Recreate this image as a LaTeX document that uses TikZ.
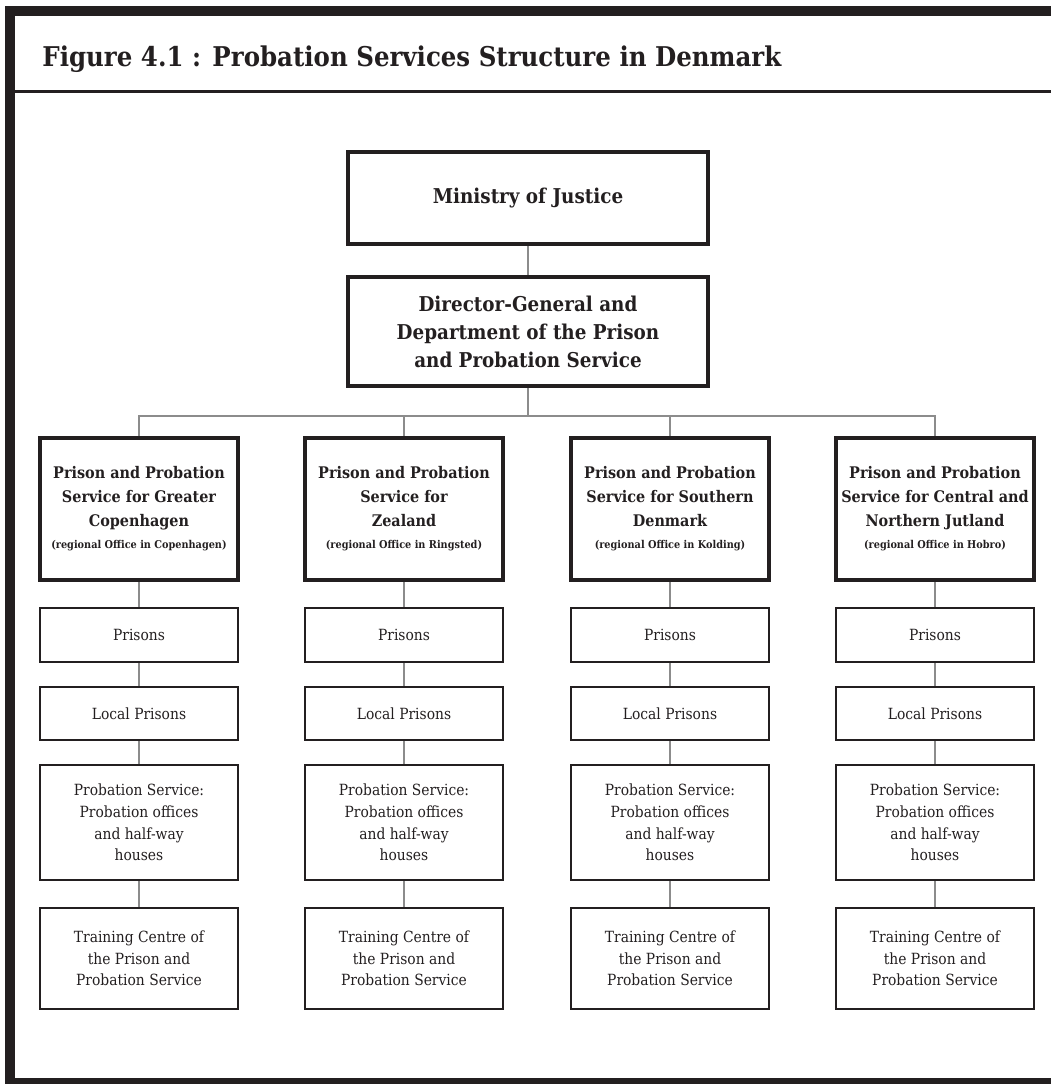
\documentclass[tikz,border=0pt]{standalone}
\usepackage{fontspec}
\setmainfont{DejaVu Serif}[FakeStretch=0.9]
\definecolor{ink}{HTML}{231F20}
\definecolor{wire}{HTML}{8C8C8C}

\begin{document}
\begin{tikzpicture}[x=0.5pt,y=-0.5pt]
	\useasboundingbox (0,0) rectangle (1051,1084);
	\tikzstyle{top}=[draw=ink,line width=2pt,text=ink,align=center,minimum width=180pt,font=\bfseries\fontsize{10.2}{14}\selectfont];
	\tikzstyle{region}=[draw=ink,line width=2pt,text=ink,align=center,minimum width=99pt,minimum height=71pt,inner xsep=2pt,font=\bfseries\fontsize{8}{12}\selectfont];
	\tikzstyle{unit}=[draw=ink,line width=1.3pt,text=ink,align=center,minimum width=99pt,font=\fontsize{7.7}{10.8}\selectfont];
	\tikzstyle{link}=[draw=wire,line width=1pt];
	\newcommand{\office}[1]{\\[-1pt]{\fontsize{5.4}{8}\selectfont (regional Office in #1)}}

	% frame and heading
	\fill[ink] (5,6) rectangle (1051,16);
	\fill[ink] (5,6) rectangle (15,1084);
	\fill[ink] (5,1078) rectangle (1051,1084);
	\draw[ink,line width=1.5pt] (15,91) -- (1051,91);
	\path (42,66) node [anchor=base west,inner sep=0pt,text=ink,font=\bfseries\fontsize{13.6}{16}\selectfont] (title) {Figure 4.1 : Probation Services Structure in Denmark};

	\path (528,198  ) node [top,minimum height=46pt]   (moj) {Ministry of Justice};
	\path (528,331.5) node [top,minimum height=54.5pt] (dg)  {Director-General and\\Department of the Prison\\and Probation Service};

	\path (139,509) node [region] (reg1) {Prison and Probation\\Service for Greater\\Copenhagen\office{Copenhagen}};
	\path (404,509) node [region] (reg2) {Prison and Probation\\Service for\\Zealand\office{Ringsted}};
	\path (670,509) node [region] (reg3) {Prison and Probation\\Service for Southern\\Denmark\office{Kolding}};
	\path (935,509) node [region] (reg4) {Prison and Probation\\Service for Central and\\Northern Jutland\office{Hobro}};

	\path (139,635  ) node [unit,minimum height=27pt]   (pri1) {Prisons};
	\path (404,635  ) node [unit,minimum height=27pt]   (pri2) {Prisons};
	\path (670,635  ) node [unit,minimum height=27pt]   (pri3) {Prisons};
	\path (935,635  ) node [unit,minimum height=27pt]   (pri4) {Prisons};
	\path (139,713.5) node [unit,minimum height=26.5pt] (loc1) {Local Prisons};
	\path (404,713.5) node [unit,minimum height=26.5pt] (loc2) {Local Prisons};
	\path (670,713.5) node [unit,minimum height=26.5pt] (loc3) {Local Prisons};
	\path (935,713.5) node [unit,minimum height=26.5pt] (loc4) {Local Prisons};
	\path (139,822.5) node [unit,minimum height=57.5pt] (pro1) {Probation Service:\\Probation offices\\and half-way\\houses};
	\path (404,822.5) node [unit,minimum height=57.5pt] (pro2) {Probation Service:\\Probation offices\\and half-way\\houses};
	\path (670,822.5) node [unit,minimum height=57.5pt] (pro3) {Probation Service:\\Probation offices\\and half-way\\houses};
	\path (935,822.5) node [unit,minimum height=57.5pt] (pro4) {Probation Service:\\Probation offices\\and half-way\\houses};
	\path (139,958.5) node [unit,minimum height=50.5pt] (trc1) {Training Centre of\\the Prison and\\Probation Service};
	\path (404,958.5) node [unit,minimum height=50.5pt] (trc2) {Training Centre of\\the Prison and\\Probation Service};
	\path (670,958.5) node [unit,minimum height=50.5pt] (trc3) {Training Centre of\\the Prison and\\Probation Service};
	\path (935,958.5) node [unit,minimum height=50.5pt] (trc4) {Training Centre of\\the Prison and\\Probation Service};

	\draw[link] (moj) -- (dg);
	\draw[link] (dg.south) -- ++(0,28) -| (reg1.north);
	\draw[link] (dg.south) -- ++(0,28) -| (reg2.north);
	\draw[link] (dg.south) -- ++(0,28) -| (reg3.north);
	\draw[link] (dg.south) -- ++(0,28) -| (reg4.north);
	\draw[link] (reg1) -- (pri1) (pri1) -- (loc1) (loc1) -- (pro1) (pro1) -- (trc1);
	\draw[link] (reg2) -- (pri2) (pri2) -- (loc2) (loc2) -- (pro2) (pro2) -- (trc2);
	\draw[link] (reg3) -- (pri3) (pri3) -- (loc3) (loc3) -- (pro3) (pro3) -- (trc3);
	\draw[link] (reg4) -- (pri4) (pri4) -- (loc4) (loc4) -- (pro4) (pro4) -- (trc4);
\end{tikzpicture}
\end{document}
